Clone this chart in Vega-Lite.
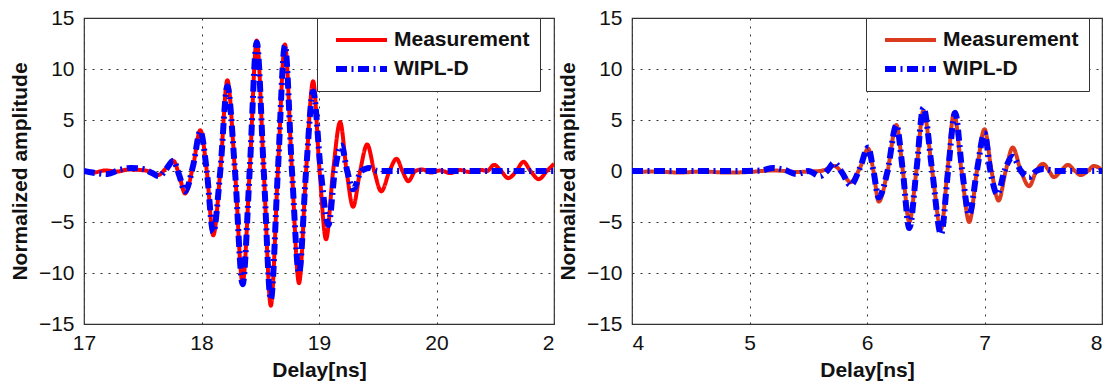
{
  "$schema": "https://vega.github.io/schema/vega-lite/v6.json",
  "background": "white",
  "padding": {"left": 8, "top": 6, "right": 4, "bottom": 4},
  "datasets": {
    "left": [
      {"t":17.00,"a":0,"s":"Measurement"},{"t":17.08,"a":-0.15,"s":"Measurement"},{"t":17.18,"a":0.05,"s":"Measurement"},{"t":17.28,"a":-0.05,"s":"Measurement"},{"t":17.38,"a":0.15,"s":"Measurement"},{"t":17.48,"a":0.1,"s":"Measurement"},{"t":17.56,"a":-0.05,"s":"Measurement"},{"t":17.63,"a":-0.4,"s":"Measurement"},{"t":17.70,"a":0.3,"s":"Measurement"},{"t":17.76,"a":1.0,"s":"Measurement"},{"t":17.81,"a":-0.4,"s":"Measurement"},{"t":17.86,"a":-2.2,"s":"Measurement"},{"t":17.93,"a":0.6,"s":"Measurement"},{"t":17.99,"a":4.0,"s":"Measurement"},{"t":18.045,"a":0,"s":"Measurement"},{"t":18.10,"a":-6.3,"s":"Measurement"},{"t":18.16,"a":0,"s":"Measurement"},{"t":18.22,"a":8.9,"s":"Measurement"},{"t":18.285,"a":0,"s":"Measurement"},{"t":18.35,"a":-11.0,"s":"Measurement"},{"t":18.41,"a":0,"s":"Measurement"},{"t":18.47,"a":12.8,"s":"Measurement"},{"t":18.53,"a":0,"s":"Measurement"},{"t":18.59,"a":-13.2,"s":"Measurement"},{"t":18.65,"a":0,"s":"Measurement"},{"t":18.71,"a":12.4,"s":"Measurement"},{"t":18.77,"a":0,"s":"Measurement"},{"t":18.83,"a":-11.0,"s":"Measurement"},{"t":18.89,"a":0,"s":"Measurement"},{"t":18.95,"a":8.8,"s":"Measurement"},{"t":19.005,"a":0,"s":"Measurement"},{"t":19.06,"a":-6.7,"s":"Measurement"},{"t":19.12,"a":0,"s":"Measurement"},{"t":19.18,"a":4.8,"s":"Measurement"},{"t":19.235,"a":0,"s":"Measurement"},{"t":19.29,"a":-3.5,"s":"Measurement"},{"t":19.35,"a":0,"s":"Measurement"},{"t":19.41,"a":2.6,"s":"Measurement"},{"t":19.47,"a":0,"s":"Measurement"},{"t":19.53,"a":-2.0,"s":"Measurement"},{"t":19.60,"a":0,"s":"Measurement"},{"t":19.66,"a":1.2,"s":"Measurement"},{"t":19.71,"a":0,"s":"Measurement"},{"t":19.76,"a":-1.0,"s":"Measurement"},{"t":19.82,"a":0,"s":"Measurement"},{"t":19.88,"a":0.15,"s":"Measurement"},{"t":19.95,"a":-0.15,"s":"Measurement"},{"t":20.03,"a":0.05,"s":"Measurement"},{"t":20.12,"a":-0.2,"s":"Measurement"},{"t":20.20,"a":0.1,"s":"Measurement"},{"t":20.28,"a":-0.1,"s":"Measurement"},{"t":20.38,"a":0.1,"s":"Measurement"},{"t":20.43,"a":0,"s":"Measurement"},{"t":20.49,"a":0.6,"s":"Measurement"},{"t":20.55,"a":0,"s":"Measurement"},{"t":20.61,"a":-0.7,"s":"Measurement"},{"t":20.68,"a":0,"s":"Measurement"},{"t":20.74,"a":0.9,"s":"Measurement"},{"t":20.80,"a":0,"s":"Measurement"},{"t":20.87,"a":-0.8,"s":"Measurement"},{"t":20.94,"a":0,"s":"Measurement"},{"t":21.00,"a":0.7,"s":"Measurement"},
      {"t":17.00,"a":0,"s":"WIPL-D"},{"t":17.10,"a":-0.2,"s":"WIPL-D"},{"t":17.20,"a":-0.3,"s":"WIPL-D"},{"t":17.30,"a":0.1,"s":"WIPL-D"},{"t":17.40,"a":0.3,"s":"WIPL-D"},{"t":17.50,"a":0.2,"s":"WIPL-D"},{"t":17.58,"a":-0.2,"s":"WIPL-D"},{"t":17.64,"a":-0.5,"s":"WIPL-D"},{"t":17.70,"a":0.2,"s":"WIPL-D"},{"t":17.76,"a":1.0,"s":"WIPL-D"},{"t":17.81,"a":-0.4,"s":"WIPL-D"},{"t":17.86,"a":-2.0,"s":"WIPL-D"},{"t":17.93,"a":0.6,"s":"WIPL-D"},{"t":17.99,"a":3.9,"s":"WIPL-D"},{"t":18.045,"a":0,"s":"WIPL-D"},{"t":18.10,"a":-6.0,"s":"WIPL-D"},{"t":18.16,"a":0,"s":"WIPL-D"},{"t":18.22,"a":8.3,"s":"WIPL-D"},{"t":18.285,"a":0,"s":"WIPL-D"},{"t":18.35,"a":-11.1,"s":"WIPL-D"},{"t":18.41,"a":0,"s":"WIPL-D"},{"t":18.47,"a":12.6,"s":"WIPL-D"},{"t":18.53,"a":0,"s":"WIPL-D"},{"t":18.59,"a":-12.6,"s":"WIPL-D"},{"t":18.65,"a":0,"s":"WIPL-D"},{"t":18.71,"a":12.3,"s":"WIPL-D"},{"t":18.77,"a":0,"s":"WIPL-D"},{"t":18.83,"a":-10.0,"s":"WIPL-D"},{"t":18.89,"a":0,"s":"WIPL-D"},{"t":18.95,"a":7.8,"s":"WIPL-D"},{"t":19.015,"a":0,"s":"WIPL-D"},{"t":19.08,"a":-5.3,"s":"WIPL-D"},{"t":19.135,"a":0,"s":"WIPL-D"},{"t":19.19,"a":2.5,"s":"WIPL-D"},{"t":19.24,"a":0,"s":"WIPL-D"},{"t":19.29,"a":-1.8,"s":"WIPL-D"},{"t":19.36,"a":0,"s":"WIPL-D"},{"t":19.43,"a":0.3,"s":"WIPL-D"},{"t":19.50,"a":0,"s":"WIPL-D"},{"t":19.70,"a":0,"s":"WIPL-D"},{"t":20.00,"a":0,"s":"WIPL-D"},{"t":20.30,"a":0,"s":"WIPL-D"},{"t":20.60,"a":0,"s":"WIPL-D"},{"t":21.00,"a":0,"s":"WIPL-D"}
    ],
    "right": [
      {"t":4.00,"a":-0.1,"s":"Measurement"},{"t":4.20,"a":-0.05,"s":"Measurement"},{"t":4.40,"a":-0.15,"s":"Measurement"},{"t":4.60,"a":-0.05,"s":"Measurement"},{"t":4.80,"a":-0.15,"s":"Measurement"},{"t":5.00,"a":-0.1,"s":"Measurement"},{"t":5.10,"a":0,"s":"Measurement"},{"t":5.20,"a":0.05,"s":"Measurement"},{"t":5.30,"a":0,"s":"Measurement"},{"t":5.40,"a":-0.1,"s":"Measurement"},{"t":5.50,"a":-0.05,"s":"Measurement"},{"t":5.60,"a":0,"s":"Measurement"},{"t":5.66,"a":0.2,"s":"Measurement"},{"t":5.72,"a":0.5,"s":"Measurement"},{"t":5.79,"a":-0.2,"s":"Measurement"},{"t":5.86,"a":-1.1,"s":"Measurement"},{"t":5.94,"a":0.3,"s":"Measurement"},{"t":6.01,"a":2.2,"s":"Measurement"},{"t":6.055,"a":0,"s":"Measurement"},{"t":6.10,"a":-3.0,"s":"Measurement"},{"t":6.175,"a":0,"s":"Measurement"},{"t":6.25,"a":4.5,"s":"Measurement"},{"t":6.305,"a":0,"s":"Measurement"},{"t":6.36,"a":-5.0,"s":"Measurement"},{"t":6.42,"a":0,"s":"Measurement"},{"t":6.48,"a":5.9,"s":"Measurement"},{"t":6.555,"a":0,"s":"Measurement"},{"t":6.63,"a":-5.7,"s":"Measurement"},{"t":6.685,"a":0,"s":"Measurement"},{"t":6.74,"a":5.7,"s":"Measurement"},{"t":6.805,"a":0,"s":"Measurement"},{"t":6.87,"a":-5.0,"s":"Measurement"},{"t":6.935,"a":0,"s":"Measurement"},{"t":7.00,"a":4.1,"s":"Measurement"},{"t":7.06,"a":0,"s":"Measurement"},{"t":7.12,"a":-2.9,"s":"Measurement"},{"t":7.18,"a":0,"s":"Measurement"},{"t":7.24,"a":2.3,"s":"Measurement"},{"t":7.31,"a":0,"s":"Measurement"},{"t":7.38,"a":-1.5,"s":"Measurement"},{"t":7.44,"a":0,"s":"Measurement"},{"t":7.50,"a":0.7,"s":"Measurement"},{"t":7.55,"a":0,"s":"Measurement"},{"t":7.59,"a":-0.6,"s":"Measurement"},{"t":7.65,"a":0,"s":"Measurement"},{"t":7.71,"a":0.6,"s":"Measurement"},{"t":7.77,"a":0,"s":"Measurement"},{"t":7.82,"a":-0.4,"s":"Measurement"},{"t":7.88,"a":0,"s":"Measurement"},{"t":7.93,"a":0.5,"s":"Measurement"},{"t":8.00,"a":0.1,"s":"Measurement"},
      {"t":4.00,"a":0,"s":"WIPL-D"},{"t":4.30,"a":0,"s":"WIPL-D"},{"t":4.60,"a":0,"s":"WIPL-D"},{"t":4.90,"a":0,"s":"WIPL-D"},{"t":5.10,"a":0.05,"s":"WIPL-D"},{"t":5.20,"a":0.3,"s":"WIPL-D"},{"t":5.30,"a":0.1,"s":"WIPL-D"},{"t":5.40,"a":-0.3,"s":"WIPL-D"},{"t":5.50,"a":0,"s":"WIPL-D"},{"t":5.60,"a":-0.5,"s":"WIPL-D"},{"t":5.66,"a":0,"s":"WIPL-D"},{"t":5.72,"a":0.8,"s":"WIPL-D"},{"t":5.79,"a":-0.2,"s":"WIPL-D"},{"t":5.86,"a":-1.4,"s":"WIPL-D"},{"t":5.94,"a":0.3,"s":"WIPL-D"},{"t":6.01,"a":2.3,"s":"WIPL-D"},{"t":6.055,"a":0,"s":"WIPL-D"},{"t":6.10,"a":-2.6,"s":"WIPL-D"},{"t":6.175,"a":0,"s":"WIPL-D"},{"t":6.25,"a":4.5,"s":"WIPL-D"},{"t":6.305,"a":0,"s":"WIPL-D"},{"t":6.36,"a":-5.6,"s":"WIPL-D"},{"t":6.42,"a":0,"s":"WIPL-D"},{"t":6.48,"a":6.2,"s":"WIPL-D"},{"t":6.555,"a":0,"s":"WIPL-D"},{"t":6.63,"a":-6.2,"s":"WIPL-D"},{"t":6.69,"a":0,"s":"WIPL-D"},{"t":6.75,"a":5.7,"s":"WIPL-D"},{"t":6.81,"a":0,"s":"WIPL-D"},{"t":6.87,"a":-4.3,"s":"WIPL-D"},{"t":6.935,"a":0,"s":"WIPL-D"},{"t":7.00,"a":3.7,"s":"WIPL-D"},{"t":7.05,"a":0,"s":"WIPL-D"},{"t":7.11,"a":-2.3,"s":"WIPL-D"},{"t":7.17,"a":0,"s":"WIPL-D"},{"t":7.24,"a":1.4,"s":"WIPL-D"},{"t":7.31,"a":0,"s":"WIPL-D"},{"t":7.38,"a":-0.6,"s":"WIPL-D"},{"t":7.44,"a":0,"s":"WIPL-D"},{"t":7.50,"a":0.2,"s":"WIPL-D"},{"t":7.60,"a":0,"s":"WIPL-D"},{"t":7.80,"a":0,"s":"WIPL-D"},{"t":8.00,"a":0,"s":"WIPL-D"}
    ]
  },
  "spacing": 78,
  "bounds": "flush",
  "resolve": {
    "scale": {"color": "independent", "strokeDash": "independent", "strokeWidth": "independent", "x": "independent", "y": "independent"},
    "legend": {"color": "independent", "strokeDash": "independent", "strokeWidth": "independent"}
  },
  "hconcat": [
    {
      "width": 470,
      "height": 306,
      "data": {"name": "left"},
      "mark": {"type": "line", "interpolate": "monotone", "clip": true, "strokeCap": "butt"},
      "encoding": {
        "x": {"field": "t", "type": "quantitative", "scale": {"domain": [17, 21], "nice": false, "zero": false},
              "axis": {"values": [17, 18, 19, 20, 21], "title": "Delay[ns]",
                       "labelExpr": "datum.value == 21 ? '2' : datum.label",
                       "labelAlign": {"condition": {"test": "datum.value == 21", "value": "right"}, "value": "center"}}},
        "y": {"field": "a", "type": "quantitative", "scale": {"domain": [-15, 15], "nice": false},
              "axis": {"values": [-15, -10, -5, 0, 5, 10, 15], "title": "Normalized amplitude"}},
        "color": {"field": "s", "type": "nominal", "scale": {"domain": ["Measurement", "WIPL-D"], "range": ["#ff0000", "#0000ff"]},
                  "legend": {"orient": "none", "legendX": 233, "legendY": 0, "title": null}},
        "strokeDash": {"field": "s", "type": "nominal", "scale": {"domain": ["Measurement", "WIPL-D"], "range": [[1, 0], [11, 4.5, 2, 4.5]]},
                       "legend": {"orient": "none", "legendX": 233, "legendY": 0, "title": null}},
        "strokeWidth": {"field": "s", "type": "ordinal", "scale": {"domain": ["Measurement", "WIPL-D"], "range": [4, 6]},
                        "legend": {"orient": "none", "legendX": 233, "legendY": 0, "title": null}}
      }
    },
    {
      "width": 470,
      "height": 306,
      "data": {"name": "right"},
      "mark": {"type": "line", "interpolate": "monotone", "clip": true, "strokeCap": "butt"},
      "encoding": {
        "x": {"field": "t", "type": "quantitative", "scale": {"domain": [4, 8], "nice": false, "zero": false},
              "axis": {"values": [4, 5, 6, 7, 8], "title": "Delay[ns]"}},
        "y": {"field": "a", "type": "quantitative", "scale": {"domain": [-15, 15], "nice": false},
              "axis": {"values": [-15, -10, -5, 0, 5, 10, 15], "title": "Normalized amplitude"}},
        "color": {"field": "s", "type": "nominal", "scale": {"domain": ["Measurement", "WIPL-D"], "range": ["#dc3a1e", "#0000ff"]},
                  "legend": {"orient": "none", "legendX": 234, "legendY": 0, "title": null}},
        "strokeDash": {"field": "s", "type": "nominal", "scale": {"domain": ["Measurement", "WIPL-D"], "range": [[1, 0], [11, 4.5, 2, 4.5]]},
                       "legend": {"orient": "none", "legendX": 234, "legendY": 0, "title": null}},
        "strokeWidth": {"field": "s", "type": "ordinal", "scale": {"domain": ["Measurement", "WIPL-D"], "range": [4, 6]},
                        "legend": {"orient": "none", "legendX": 234, "legendY": 0, "title": null}}
      }
    }
  ],
  "config": {
    "view": {"stroke": "#333333", "strokeWidth": 1.2},
    "axis": {
      "domain": false,
      "ticks": false,
      "tickSize": 0,
      "grid": true,
      "gridColor": "#333333",
      "gridDash": [2, 6],
      "gridWidth": 1,
      "gridOpacity": 1,
      "labelFont": "Liberation Sans",
      "labelFontSize": 21,
      "labelColor": "#111111",
      "titleFont": "Liberation Sans",
      "titleFontSize": 21,
      "titleFontWeight": "bold",
      "titleColor": "#111111"
    },
    "axisX": {"labelPadding": 8, "titlePadding": 6},
    "axisY": {"labelPadding": 10, "titlePadding": 8},
    "legend": {
      "fillColor": "white",
      "strokeColor": "#333333",
      "padding": 10,
      "labelFont": "Liberation Sans",
      "labelFontSize": 21,
      "labelFontWeight": "bold",
      "labelColor": "#111111",
      "labelOffset": 41,
      "rowPadding": 6,
      "symbolType": "M-0.4,0H4.7",
      "symbolSize": 400,
      "labelLimit": 300
    }
  }
}
